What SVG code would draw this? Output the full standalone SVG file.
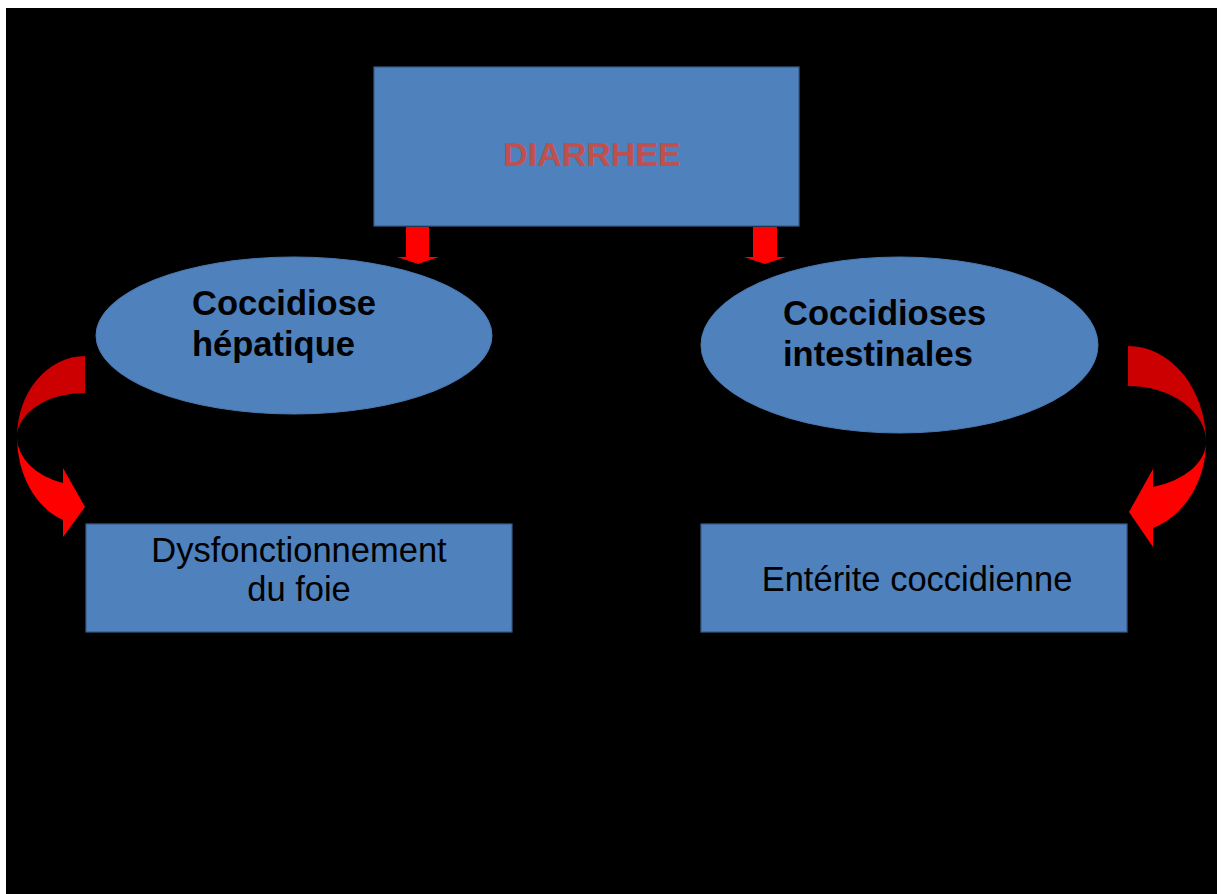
<svg xmlns="http://www.w3.org/2000/svg" width="1224" height="894" viewBox="0 0 1224 894">
<style>
.box{fill:#4F81BD;stroke:#385D8A;stroke-width:1.2}
.ell{fill:#4F81BD;stroke:#4A7AB3;stroke-width:1}
.bt{font-family:"Liberation Sans",Arial,sans-serif;font-weight:bold;font-size:34.5px;fill:#000}
.rt{font-family:"Liberation Sans",Arial,sans-serif;font-size:34.5px;fill:#000;text-anchor:middle}
.down{fill:#FF0000}
.dark{fill:#CC0000}
.bright{fill:#FF0000}
</style>
<rect x="0" y="0" width="1224" height="894" fill="#FFFFFF"/>
<rect x="6" y="8" width="1211" height="886" fill="#000000"/>
<g id="connectors">
<path class="down" d="M406,227 H429 V257 H439 L418,264 L397,257 H406 Z"/>
<path class="down" d="M753,227 H777 V257 H786 L765,264 L744,257 H753 Z"/>
<path class="dark" d="M85,356 A68,81 0 0 0 17,437 A68,44 0 0 1 85,393 Z"/>
<path class="bright" d="M17,437 A68,87.7 0 0 0 63,520 L63,537 L85,507 L63,468 L63,483 A68,48.6 0 0 1 17,437 Z"/>
<path class="dark" d="M1128,346 A78,96 0 0 1 1206,442 A78,56 0 0 0 1128,386 Z"/>
<path class="bright" d="M1206,442 A78,90.8 0 0 1 1153,528 L1153,547 L1129,512 L1153,469 L1153,487 A78,47.5 0 0 0 1206,442 Z"/>
</g>
<g id="diarrhee">
<rect class="box" x="374" y="67" width="425" height="159"/>
<text x="592" y="166" font-family="Liberation Sans, Arial, sans-serif" font-weight="bold" font-size="34" fill="#C0504D" text-anchor="middle">DIARRHEE</text>
</g>
<g id="coccidiose-hepatique">
<ellipse class="ell" cx="294" cy="335.5" rx="198" ry="78.5"/>
<text class="bt" x="192" y="315">Coccidiose</text>
<text class="bt" x="192" y="356">hépatique</text>
</g>
<g id="coccidioses-intestinales">
<ellipse class="ell" cx="899.5" cy="345" rx="198.5" ry="88"/>
<text class="bt" x="783" y="325">Coccidioses</text>
<text class="bt" x="783" y="366">intestinales</text>
</g>
<g id="dysfonctionnement">
<rect class="box" x="86" y="524" width="426" height="108"/>
<text class="rt" x="299" y="562">Dysfonctionnement</text>
<text class="rt" x="299" y="601">du foie</text>
</g>
<g id="enterite">
<rect class="box" x="701" y="524" width="426" height="108"/>
<text class="rt" x="917" y="591">Entérite coccidienne</text>
</g>
</svg>
